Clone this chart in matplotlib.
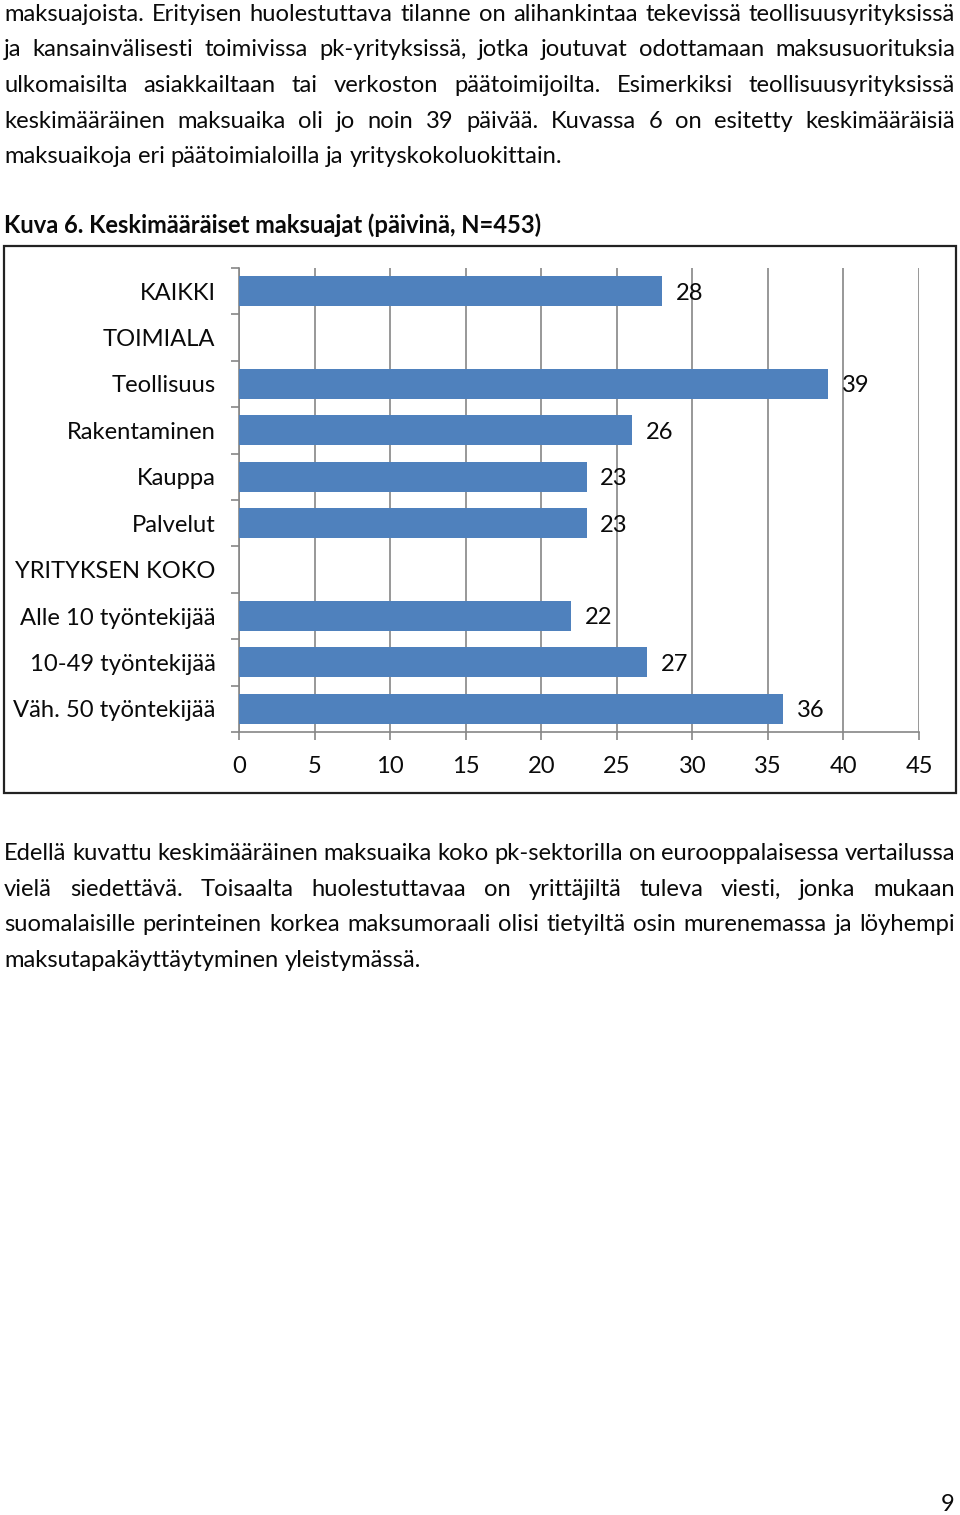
import matplotlib
matplotlib.use("Agg")
import matplotlib.pyplot as plt
from matplotlib import font_manager
from matplotlib.patches import Rectangle
import numpy as np

# page text
para_top = [
    "maksuajoista. Erityisen huolestuttava tilanne on alihankintaa tekevissä teollisuusyrityksissä",
    "ja kansainvälisesti toimivissa pk-yrityksissä, jotka joutuvat odottamaan maksusuorituksia",
    "ulkomaisilta asiakkailtaan tai verkoston päätoimijoilta. Esimerkiksi teollisuusyrityksissä",
    "keskimääräinen maksuaika oli jo noin 39 päivää. Kuvassa 6 on esitetty keskimääräisiä",
    "maksuaikoja eri päätoimialoilla ja yrityskokoluokittain.",
]
caption = "Kuva 6. Keskimääräiset maksuajat (päivinä, N=453)"
para_bottom = [
    "Edellä kuvattu keskimääräinen maksuaika koko pk-sektorilla on eurooppalaisessa vertailussa",
    "vielä siedettävä. Toisaalta huolestuttavaa on yrittäjiltä tuleva viesti, jonka mukaan",
    "suomalaisille perinteinen korkea maksumoraali olisi tietyiltä osin murenemassa ja löyhempi",
    "maksutapakäyttäytyminen yleistymässä.",
]
page_no = "9"

# chart data
categories = ["KAIKKI", "TOIMIALA", "Teollisuus", "Rakentaminen", "Kauppa", "Palvelut",
              "YRITYKSEN KOKO", "Alle 10 työntekijää", "10-49 työntekijää", "Väh. 50 työntekijää"]
values = [28, None, 39, 26, 23, 23, None, 22, 27, 36]
xticks = [0, 5, 10, 15, 20, 25, 30, 35, 40, 45]

installed = {f.name for f in font_manager.fontManager.ttflist}
FONT = "Lato" if "Lato" in installed else "DejaVu Sans"
plt.rcParams['font.family'] = [FONT, 'DejaVu Sans']

W, H = 960, 1515
fig = plt.figure(figsize=(W / 100, H / 100), dpi=100)
renderer = fig.canvas.get_renderer()


def fx(x):
    return x / W


def fy(y):
    return 1 - y / H


def put_line(line, y, justify, x0=4, x1=955, **kw):
    # place the words one by one so the line can be justified like in the document
    words = line.split(" ")
    texts = [fig.text(0, fy(y), w, ha='left', va='baseline', **kw) for w in words]
    widths = [t.get_window_extent(renderer).width for t in texts]
    if justify and len(words) > 1:
        gap = (x1 - x0 - sum(widths)) / (len(words) - 1)
    else:
        a = fig.text(0, 0, "a a", **kw)
        b = fig.text(0, 0, "aa", **kw)
        gap = a.get_window_extent(renderer).width - b.get_window_extent(renderer).width
        a.remove()
        b.remove()
    x = x0
    for t, w in zip(texts, widths):
        t.set_x(fx(x))
        x += w + gap


body_size = 17.1
ink = '#0a0a0a'
for i, line in enumerate(para_top):
    put_line(line, 21 + i * 35.5, i < len(para_top) - 1, fontsize=body_size, color=ink)

fig.text(fx(4), fy(233), caption, fontsize=body_size, fontweight='bold', ha='left', va='baseline', color=ink)

for i, line in enumerate(para_bottom):
    put_line(line, 860 + i * 35.5, i < len(para_bottom) - 1, fontsize=body_size, color=ink)

fig.text(fx(955), fy(1511), page_no, fontsize=body_size, ha='right', va='baseline', color=ink)

# chart frame
fig.patches.append(Rectangle((fx(4), fy(793)), fx(952), (793 - 246) / H, transform=fig.transFigure,
                             fill=False, edgecolor='#222222', linewidth=1.6))

ax = fig.add_axes([fx(239), fy(732), fx(919 - 239), (732 - 268) / H])
pos = np.arange(len(categories))
for p, v in zip(pos, values):
    if v is None:
        continue
    ax.barh(p, v, height=0.65, color='#4F81BD', zorder=3)
    ax.text(v + 0.9, p + 0.04, str(v), ha='left', va='center', fontsize=body_size, color=ink, zorder=4)

ax.set_xlim(0, 45)
ax.set_ylim(len(categories) - 0.5, -0.5)
ax.set_xticks(xticks)
ax.set_xticklabels([str(t) for t in xticks])
ax.set_yticks(np.arange(len(categories) + 1) - 0.5)
ax.set_yticklabels([])
ax.set_yticks(pos, minor=True)
ax.set_yticklabels(categories, minor=True)
ax.tick_params(axis='y', which='major', length=6, width=1.2, color='#868686', direction='out')
ax.tick_params(axis='y', which='minor', length=0, pad=17, labelsize=body_size, labelcolor=ink)
ax.tick_params(axis='x', length=6, width=1.2, color='#868686', pad=11, labelsize=body_size, labelcolor=ink)
ax.grid(axis='x', color='#868686', linewidth=1.2, zorder=0)
for s in ['top', 'right']:
    ax.spines[s].set_visible(False)
for s in ['left', 'bottom']:
    ax.spines[s].set_color('#868686')
    ax.spines[s].set_linewidth(1.2)

fig.savefig("out.png", dpi=100)
